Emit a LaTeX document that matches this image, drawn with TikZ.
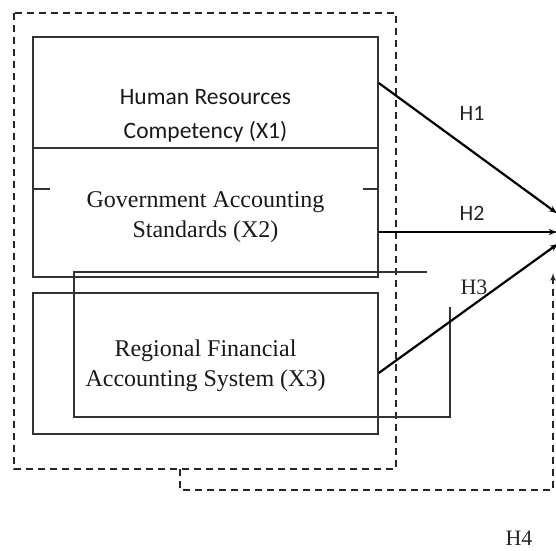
\documentclass[tikz,border=0pt]{standalone}
\usepackage{fontspec}
\setmainfont{Liberation Serif}
\newfontfamily\calib{Carlito}
\usetikzlibrary{arrows,shapes,positioning}

\begin{document}
\begin{tikzpicture}[x=1pt,y=-1pt,
    varbox/.style={draw=black!80,line width=1.5pt,minimum width=345pt,inner sep=0pt},
    vartext/.style={align=center,inner sep=0pt,text=black!90,font=\fontsize{24}{30}\selectfont},
    hyp/.style={line width=2.2pt,-latex'},
    thin/.style={draw=black!80,line width=1.5pt},
    frame/.style={dash pattern=on 7pt off 5pt,line width=1.6pt,black!85},
    hlbl/.style={inner sep=0pt,text=black!85,font=\fontsize{22}{24}\selectfont}]
    \useasboundingbox (0,0) rectangle (556,550);

    \draw[frame] (14,13) rectangle (396,469);

    \node[varbox,minimum height=111pt] (X1) at (205.5,92.5) {};
    \node[varbox,minimum height=129pt] (X2) at (205.5,212.5) {};
    \node[varbox,minimum height=141pt] (X3) at (205.5,363.5) {};
    \node[vartext,font=\calib\fontsize{23.5}{34}\selectfont] (X1t) at ([yshift=-23pt]X1.center) {Human Resources\\Competency (X1)};
    \node[vartext] (X2t) at ([yshift=-5pt]X2.center) {Government Accounting\\Standards (X2)};
    \node[vartext] (X3t) at ([yshift=-2pt]X3.center) {Regional Financial\\Accounting System (X3)};

    \draw[thin] ([yshift=23.5pt]X2.west) -- ++(18,0);
    \draw[thin] ([yshift=23.5pt]X2.east) -- ++(-16,0);
    \draw[thin] (427,272) -- (74,272) -- (74,417) -- (450,417) -- (450,307);

    \coordinate (Y1) at (558,214);
    \coordinate (Y2) at (558,232);
    \coordinate (Y3) at (559,243);
    \coordinate (Y4) at (553,273);
    \coordinate (d0) at (180,469);

    \draw[hyp] ([yshift=9.5pt]X1.east) -- (Y1);
    \draw[hyp] ([yshift=-19.5pt]X2.east) -- (Y2);
    \draw[hyp] ([yshift=-9.5pt]X3.east) -- (Y3);
    \draw[frame,-latex'] (d0) -- ++(0,21) -| (Y4);

    \node[hlbl,font=\calib\fontsize{22}{24}\selectfont] (h1) at (472,113) {H1};
    \node[hlbl,font=\calib\fontsize{22}{24}\selectfont] (h2) at (472,213) {H2};
    \node[hlbl] (h3) at (474,287) {H3};
    \node[hlbl] (h4) at (519,538) {H4};
\end{tikzpicture}
\end{document}
